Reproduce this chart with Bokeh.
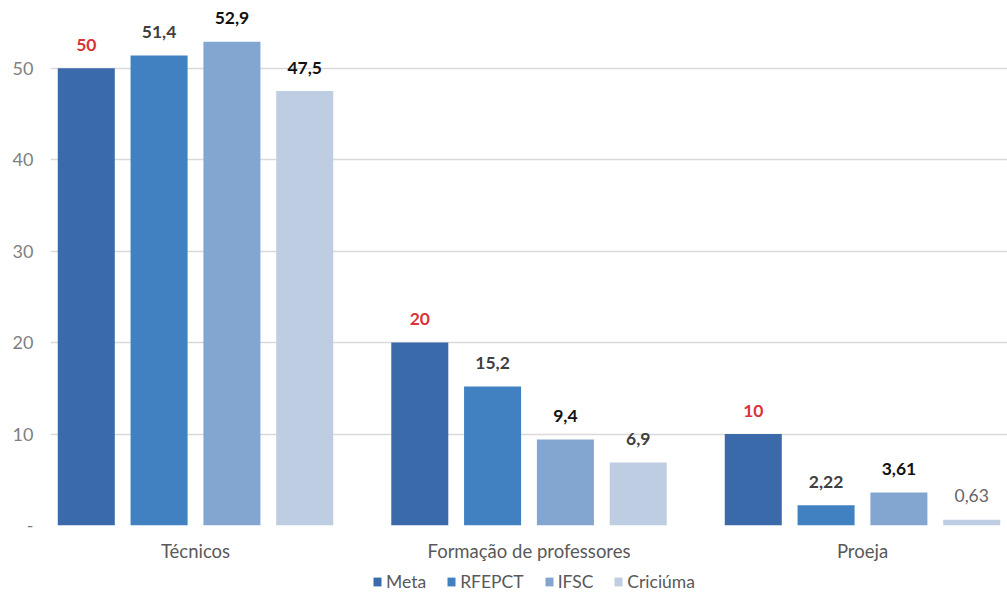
from bokeh.plotting import figure
from bokeh.layouts import column
from bokeh.models import ColumnDataSource, FactorRange, Range1d, LabelSet, Legend, LegendItem, FixedTicker
from bokeh.transform import dodge
from bokeh.core.properties import value
from bokeh.embed import file_html
from bokeh.resources import INLINE

# ---------------- data ----------------
categories = ["Técnicos", "Formação de professores", "Proeja"]
series = ["Meta", "RFEPCT", "IFSC", "Criciúma"]
meta = [50, 20, 10]
rfepct = [51.4, 15.2, 2.22]
ifsc = [52.9, 9.4, 3.61]
criciuma = [47.5, 6.9, 0.63]
y_ticks = [0, 10, 20, 30, 40, 50]
zero_label = "-"

# ---------------- styles ----------------
bar_colors = ["#3b6aab", "#4180c1", "#83a6d0", "#bfcde2"]
label_colors = [
    ["#d9343a", "#d9343a", "#d9343a"],
    ["#404040", "#404040", "#404040"],
    ["#111111", "#111111", "#111111"],
    ["#111111", "#404040", "#666666"],
]
label_styles = [
    ["bold", "bold", "bold"],
    ["bold", "bold", "bold"],
    ["bold", "bold", "bold"],
    ["bold", "bold", "normal"],
]
offsets = [-0.3275, -0.1092, 0.1092, 0.3275]
bar_width = 0.171
FONT = "Lato"


def fmt(v):
    return f"{v:g}".replace(".", ",")


p = figure(
    x_range=FactorRange(*categories, range_padding=-0.04347, range_padding_units="percent"),
    y_range=Range1d(0, 57.4),
    width=1007, height=569,
    min_border_left=50, min_border_right=0, min_border_top=0, min_border_bottom=44,
    output_backend="svg", toolbar_location=None,
)
p.outline_line_color = None
p.background_fill_color = "white"
p.border_fill_color = "white"

# legend strip (a second small figure below the chart; its frame aligns with the chart's)
lg = figure(width=1007, height=25, min_border=0, output_backend="svg", toolbar_location=None,
            x_range=FactorRange(*categories), y_range=Range1d(1000, 1001))
lg.axis.visible = False
lg.grid.visible = False
lg.outline_line_color = None

all_values = [meta, rfepct, ifsc, criciuma]
items = []
for i, (name, vals) in enumerate(zip(series, all_values)):
    src = ColumnDataSource(dict(
        cat=categories,
        val=vals,
        label=[fmt(v) for v in vals],
        color=label_colors[i],
        style=label_styles[i],
    ))
    p.vbar(x=dodge("cat", offsets[i], range=p.x_range), top="val", width=bar_width,
           source=src, fill_color=bar_colors[i], line_color=None)
    labels = LabelSet(x=dodge("cat", offsets[i], range=p.x_range), y="val", text="label",
                      source=src, text_align="center", text_baseline="alphabetic",
                      y_offset=17.5, text_font=value(FONT), text_font_size="17.5px",
                      text_color="color", text_font_style="style")
    p.add_layout(labels)
    # same series in the legend strip as zero-size bars outside its y-range (legend swatches only)
    r = lg.vbar(x="cat", top="val", bottom="val", width=0, source=src,
                fill_color=bar_colors[i], line_color=None)
    items.append(LegendItem(label=name, renderers=[r]))

# axes
p.yaxis.ticker = FixedTicker(ticks=y_ticks)
p.yaxis.major_label_overrides = {0: zero_label}
p.yaxis.axis_line_color = None
p.yaxis.major_tick_line_color = None
p.yaxis.minor_tick_line_color = None
p.yaxis.major_label_text_font = FONT
p.yaxis.major_label_text_font_size = "18px"
p.yaxis.major_label_text_color = "#7f7f7f"
p.yaxis.major_label_standoff = 11

p.xaxis.axis_line_color = None
p.xaxis.major_tick_line_color = None
p.xaxis.minor_tick_line_color = None
p.xaxis.major_label_text_font = FONT
p.xaxis.major_label_text_font_size = "18.5px"
p.xaxis.major_label_text_color = "#595959"
p.xaxis.major_label_standoff = 8

p.xgrid.grid_line_color = None
p.ygrid.ticker = FixedTicker(ticks=y_ticks)
p.ygrid.grid_line_color = "#d9d9d9"
p.ygrid.grid_line_width = 1.5

legend = Legend(items=items, orientation="horizontal", location=(322, 2))
legend.border_line_color = None
legend.background_fill_alpha = 0
legend.label_text_font = FONT
legend.label_text_font_size = "17.5px"
legend.label_text_color = "#595959"
legend.glyph_width = 10
legend.glyph_height = 11
legend.label_standoff = 4
legend.spacing = 20
legend.padding = 0
legend.margin = 0
lg.add_layout(legend)

layout = column(p, lg, spacing=0)
open("out.html", "w").write(file_html(layout, INLINE))
